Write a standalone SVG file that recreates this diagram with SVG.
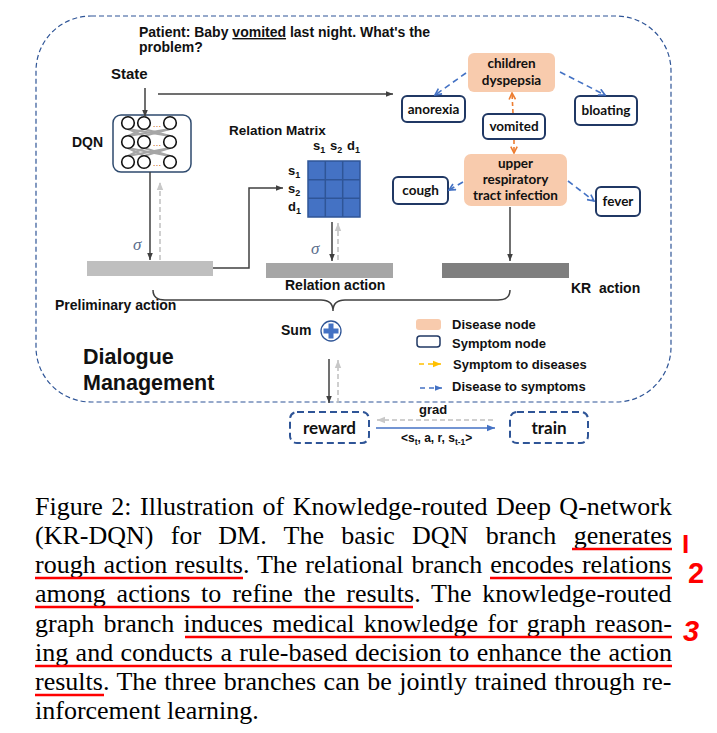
<svg xmlns="http://www.w3.org/2000/svg" width="717" height="733" viewBox="0 0 717 733">
<style>
.lbl{font-family:"Liberation Sans",Arial,sans-serif;font-weight:bold;fill:#111}
.node{font-family:Lato,"Open Sans",sans-serif;font-weight:bold;fill:#111;font-size:13.5px;text-anchor:middle}
.sym{fill:#fff;stroke:#203864;stroke-width:2}
.dis{fill:#f8cbad}
.arr{stroke:#404040;stroke-width:1.5;fill:none}
.garr{stroke:#c0c0c0;stroke-width:1.5;fill:none;stroke-dasharray:5 3}
.bd{stroke:#4472c4;stroke-width:1.6;fill:none;stroke-dasharray:6 4}
.od{stroke:#ed7d31;stroke-width:1.6;fill:none;stroke-dasharray:4 3}
.cap{font-family:"Liberation Serif","Times New Roman",serif;font-size:26px;fill:#000}
.red{stroke:#ff0000;stroke-width:2.5}
.sig{font-family:"Liberation Serif",serif;font-style:italic;font-size:17px;fill:#5b6e8c}
</style>
<defs>
<marker id="ah" viewBox="0 0 10 10" refX="10" refY="5" markerWidth="7" markerHeight="7" markerUnits="userSpaceOnUse" orient="auto"><path d="M0,1 L10,5 L0,9 z" fill="#404040"/></marker>
<marker id="ahg" viewBox="0 0 10 10" refX="10" refY="5" markerWidth="8" markerHeight="8" markerUnits="userSpaceOnUse" orient="auto"><path d="M0,1 L10,5 L0,9 z" fill="#c8c8c8"/></marker>
<marker id="ahb" viewBox="0 0 10 10" refX="9" refY="5" markerWidth="8" markerHeight="8" markerUnits="userSpaceOnUse" orient="auto"><path d="M1,1 L9,5 L1,9" fill="none" stroke="#4472c4" stroke-width="2"/></marker>
<marker id="aho" viewBox="0 0 10 10" refX="9" refY="5" markerWidth="8" markerHeight="8" markerUnits="userSpaceOnUse" orient="auto"><path d="M1,1 L9,5 L1,9" fill="none" stroke="#ed7d31" stroke-width="2"/></marker>
<marker id="ahy" viewBox="0 0 10 10" refX="10" refY="5" markerWidth="8" markerHeight="8" markerUnits="userSpaceOnUse" orient="auto"><path d="M0,1 L10,5 L0,9 z" fill="#ffc000"/></marker>
<marker id="ahbl" viewBox="0 0 10 10" refX="10" refY="5" markerWidth="8" markerHeight="8" markerUnits="userSpaceOnUse" orient="auto"><path d="M0,1 L10,5 L0,9 z" fill="#4472c4"/></marker>
<marker id="ahbf" viewBox="0 0 10 10" refX="10" refY="5" markerWidth="7" markerHeight="7" markerUnits="userSpaceOnUse" orient="auto"><path d="M0,1 L10,5 L0,9 z" fill="#4472c4"/></marker>
</defs>

<rect id="frame" x="36" y="16" width="635" height="386" rx="55" fill="none" stroke="#2f5597" stroke-width="1.2" stroke-dasharray="5 3"/>

<g id="patient">
<text class="lbl" x="139" y="37" font-size="14">Patient: Baby <tspan text-decoration="underline">vomited</tspan> last night. What's the</text>
<text class="lbl" x="139" y="52" font-size="14">problem?</text>
</g>
<text class="lbl" x="111" y="79" font-size="15">State</text>
<text class="lbl" x="72" y="147" font-size="14">DQN</text>

<g id="dqn">
<rect x="113" y="115" width="78" height="57" rx="8" fill="#fff" stroke="#2e4a6e" stroke-width="1.5"/>
<g stroke="#a6a6a6" stroke-width="2">
<line x1="128" y1="129" x2="144" y2="136"/><line x1="128" y1="129" x2="170" y2="136"/><line x1="144" y1="129" x2="128" y2="136"/><line x1="144" y1="129" x2="170" y2="136"/><line x1="170" y1="129" x2="128" y2="136"/><line x1="170" y1="129" x2="144" y2="136"/>
<line x1="128" y1="148" x2="144" y2="156"/><line x1="128" y1="148" x2="170" y2="156"/><line x1="144" y1="148" x2="128" y2="156"/><line x1="144" y1="148" x2="170" y2="156"/><line x1="170" y1="148" x2="128" y2="156"/><line x1="170" y1="148" x2="144" y2="156"/>
</g>
<g fill="#fff" stroke="#111" stroke-width="1.6">
<circle cx="128" cy="123" r="6.3"/><circle cx="144" cy="123" r="6.3"/><circle cx="170" cy="123" r="6.3"/>
<circle cx="128" cy="142" r="6.3"/><circle cx="144" cy="142" r="6.3"/><circle cx="170" cy="142" r="6.3"/>
<circle cx="128" cy="162" r="6.3"/><circle cx="144" cy="162" r="6.3"/><circle cx="170" cy="162" r="6.3"/>
</g>
<g font-family="Liberation Sans,sans-serif" font-size="9" fill="#c55a11" text-anchor="middle">
<text x="157" y="127">…</text><text x="157" y="146">…</text><text x="157" y="166">…</text>
</g>
</g>

<g id="relation-matrix">
<text class="lbl" x="229" y="135" font-size="13.5">Relation Matrix</text>
<text class="lbl" font-size="13" y="150"><tspan x="313">s</tspan><tspan font-size="9" dy="3">1</tspan><tspan x="330" dy="-3">s</tspan><tspan font-size="9" dy="3">2</tspan><tspan x="347" dy="-3">d</tspan><tspan font-size="9" dy="3">1</tspan></text>
<text class="lbl" font-size="13" x="288" y="175">s<tspan font-size="9" dy="3">1</tspan></text>
<text class="lbl" font-size="13" x="288" y="193">s<tspan font-size="9" dy="3">2</tspan></text>
<text class="lbl" font-size="13" x="288" y="211">d<tspan font-size="9" dy="3">1</tspan></text>
<rect x="308" y="161" width="52" height="56" fill="#4472c4" stroke="#2f5597" stroke-width="1.5"/>
<g stroke="#2f5597" stroke-width="1.5">
<line x1="325.3" y1="161" x2="325.3" y2="217"/><line x1="342.7" y1="161" x2="342.7" y2="217"/>
<line x1="308" y1="179.7" x2="360" y2="179.7"/><line x1="308" y1="198.3" x2="360" y2="198.3"/>
</g>
</g>

<g id="bars">
<rect id="preliminary-bar" x="87" y="261" width="126" height="15" fill="#bfbfbf"/>
<rect id="relation-bar" x="266" y="263" width="127" height="15" fill="#a6a6a6"/>
<rect id="kr-bar" x="442" y="263" width="127" height="15" fill="#7f7f7f"/>
</g>
<text class="sig" x="133" y="250">σ</text>
<text class="sig" x="311" y="254">σ</text>
<text class="lbl" x="285" y="290" font-size="14">Relation action</text>
<text class="lbl" x="571" y="293" font-size="14">KR&#160; action</text>
<text class="lbl" x="55" y="310" font-size="14">Preliminary action</text>

<g id="kg-nodes">
<g id="children-dyspepsia"><rect class="dis" x="468" y="53" width="87" height="39" rx="6"/><text class="node" x="511.5" y="68">children</text><text class="node" x="511.5" y="85">dyspepsia</text></g>
<g id="anorexia"><rect class="sym" x="402" y="96" width="63" height="26" rx="5"/><text class="node" x="433.5" y="114">anorexia</text></g>
<g id="bloating"><rect class="sym" x="575" y="96" width="62" height="29" rx="5"/><text class="node" x="606" y="115">bloating</text></g>
<g id="vomited"><rect class="sym" x="483" y="114" width="62" height="25" rx="5"/><text class="node" x="514" y="131">vomited</text></g>
<g id="urti"><rect class="dis" x="464" y="154" width="103" height="52" rx="7"/><text class="node" x="515.5" y="168">upper</text><text class="node" x="515.5" y="184">respiratory</text><text class="node" x="515.5" y="200">tract infection</text></g>
<g id="cough"><rect class="sym" x="393" y="177" width="55" height="27" rx="5"/><text class="node" x="420.5" y="195">cough</text></g>
<g id="fever"><rect class="sym" x="596" y="187" width="44" height="29" rx="5"/><text class="node" x="618" y="206">fever</text></g>
</g>

<g id="connectors">
<line class="arr" x1="145" y1="88" x2="145" y2="117" marker-end="url(#ah)"/>
<line class="arr" x1="158" y1="94" x2="393" y2="94" marker-end="url(#ah)"/>
<line class="arr" x1="150" y1="172" x2="150" y2="260" marker-end="url(#ah)"/>
<line class="garr" x1="160" y1="260" x2="160" y2="182" marker-end="url(#ahg)"/>
<path class="arr" d="M213,268 H249 V188 H283" marker-end="url(#ah)"/>
<line class="arr" x1="332" y1="222" x2="332" y2="261" marker-end="url(#ah)"/>
<line class="garr" x1="338" y1="260" x2="338" y2="223" marker-end="url(#ahg)"/>
<line class="arr" x1="510" y1="207" x2="510" y2="261" marker-end="url(#ah)"/>
<path class="arr" d="M153,290 Q153,300 165,300 L321,300 Q333,300 333,311 Q333,300 345,300 L498,300 Q510,300 510,290"/>
<line class="arr" x1="329" y1="359" x2="329" y2="403" marker-end="url(#ah)"/>
<line class="garr" x1="338" y1="403" x2="338" y2="360" marker-end="url(#ahg)"/>
<line class="bd" x1="466" y1="73" x2="435" y2="95" marker-end="url(#ahb)"/>
<line class="bd" x1="560" y1="72" x2="605" y2="95" marker-end="url(#ahb)"/>
<line class="od" x1="513" y1="113" x2="512" y2="93" marker-end="url(#aho)"/>
<line class="od" x1="514" y1="140" x2="514" y2="153" marker-end="url(#aho)"/>
<line class="bd" x1="463" y1="182" x2="449" y2="190" marker-end="url(#ahb)"/>
<line class="bd" x1="568" y1="181" x2="594" y2="201" marker-end="url(#ahb)"/>
<line x1="376" y1="428" x2="495" y2="428" stroke="#4472c4" stroke-width="1.6" marker-end="url(#ahbl)"/>
<line class="garr" x1="493" y1="420" x2="377" y2="420" marker-end="url(#ahg)"/>
</g>

<g id="sum">
<text class="lbl" x="281" y="335" font-size="14">Sum</text>
<circle cx="331" cy="331" r="10" fill="#fff" stroke="#2f5597" stroke-width="1.3"/>
<path d="M328.5,323.5 h5 v5 h5 v5 h-5 v5 h-5 v-5 h-5 v-5 h5 z" fill="#4472c4"/>
</g>

<g id="dialogue-label">
<text class="lbl" x="83" y="364" font-size="21.5">Dialogue</text>
<text class="lbl" x="83" y="390" font-size="21.5">Management</text>
</g>

<g id="legend">
<rect x="416" y="319" width="25" height="11" rx="3" fill="#f8cbad"/>
<text class="lbl" x="452" y="329" font-size="13">Disease node</text>
<rect x="417" y="336" width="23" height="11" rx="3" fill="#fff" stroke="#203864" stroke-width="1.5"/>
<text class="lbl" x="452" y="348" font-size="13">Symptom node</text>
<line x1="419" y1="364" x2="441" y2="364" stroke="#ffc000" stroke-width="1.6" stroke-dasharray="5 4" marker-end="url(#ahy)"/>
<text class="lbl" x="453" y="369" font-size="13">Symptom to diseases</text>
<line x1="420" y1="388" x2="442" y2="388" stroke="#4472c4" stroke-width="1.6" stroke-dasharray="5 4" marker-end="url(#ahbf)"/>
<text class="lbl" x="452" y="391" font-size="13">Disease to symptoms</text>
</g>

<g id="reward">
<rect x="290" y="412" width="79" height="31" rx="7" fill="none" stroke="#2f5597" stroke-width="2" stroke-dasharray="7 4"/>
<text class="node" x="329.5" y="434" font-size="17" style="font-size:17px">reward</text>
</g>
<g id="train">
<rect x="510" y="412" width="78" height="31" rx="7" fill="none" stroke="#2f5597" stroke-width="2" stroke-dasharray="7 4"/>
<text class="node" x="549" y="434" style="font-size:17px">train</text>
</g>
<text class="lbl" x="419" y="414" font-size="13">grad</text>
<text class="lbl" x="401" y="442" font-size="12">&lt;s<tspan font-size="8.5" dy="3">t</tspan><tspan dy="-3">, a, r, s</tspan><tspan font-size="8.5" dy="3">t-1</tspan><tspan dy="-3">&gt;</tspan></text>

<g id="caption">
<text class="cap" x="35" y="515" word-spacing="1.95">Figure 2: Illustration of Knowledge-routed Deep Q-network</text>
<text class="cap" x="35" y="544" word-spacing="10.8">(KR-DQN) for DM. The basic DQN branch generates</text>
<text class="cap" x="35" y="573" word-spacing="1.46">rough action results. The relational branch encodes relations</text>
<text class="cap" x="35" y="602" word-spacing="4.35">among actions to refine the results. The knowledge-routed</text>
<text class="cap" x="35" y="632" word-spacing="2.8">graph branch induces medical knowledge for graph reason-</text>
<text class="cap" x="35" y="661" word-spacing="0.9">ing and conducts a rule-based decision to enhance the action</text>
<text class="cap" x="35" y="690" word-spacing="0.98">results. The three branches can be jointly trained through re-</text>
<text class="cap" x="35" y="719">inforcement learning.</text>
</g>

<g id="annotations">
<line class="red" x1="572" y1="549" x2="672" y2="549"/>
<line class="red" x1="35" y1="578" x2="243" y2="578"/>
<line class="red" x1="490" y1="578" x2="672" y2="578"/>
<line class="red" x1="35" y1="607" x2="413" y2="607"/>
<line class="red" x1="185" y1="637" x2="672" y2="637"/>
<line class="red" x1="35" y1="666" x2="672" y2="666"/>
<line class="red" x1="35" y1="695" x2="104" y2="695"/>
<text x="682" y="553" font-family="Liberation Sans,sans-serif" font-weight="bold" font-size="26" fill="#ff0000">I</text>
<text x="688" y="583" font-family="Liberation Sans,sans-serif" font-weight="bold" font-size="29" fill="#ff0000">2</text>
<text x="683" y="641" font-family="Liberation Sans,sans-serif" font-weight="bold" font-size="29" fill="#ff0000" font-style="italic">3</text>
</g>
</svg>
